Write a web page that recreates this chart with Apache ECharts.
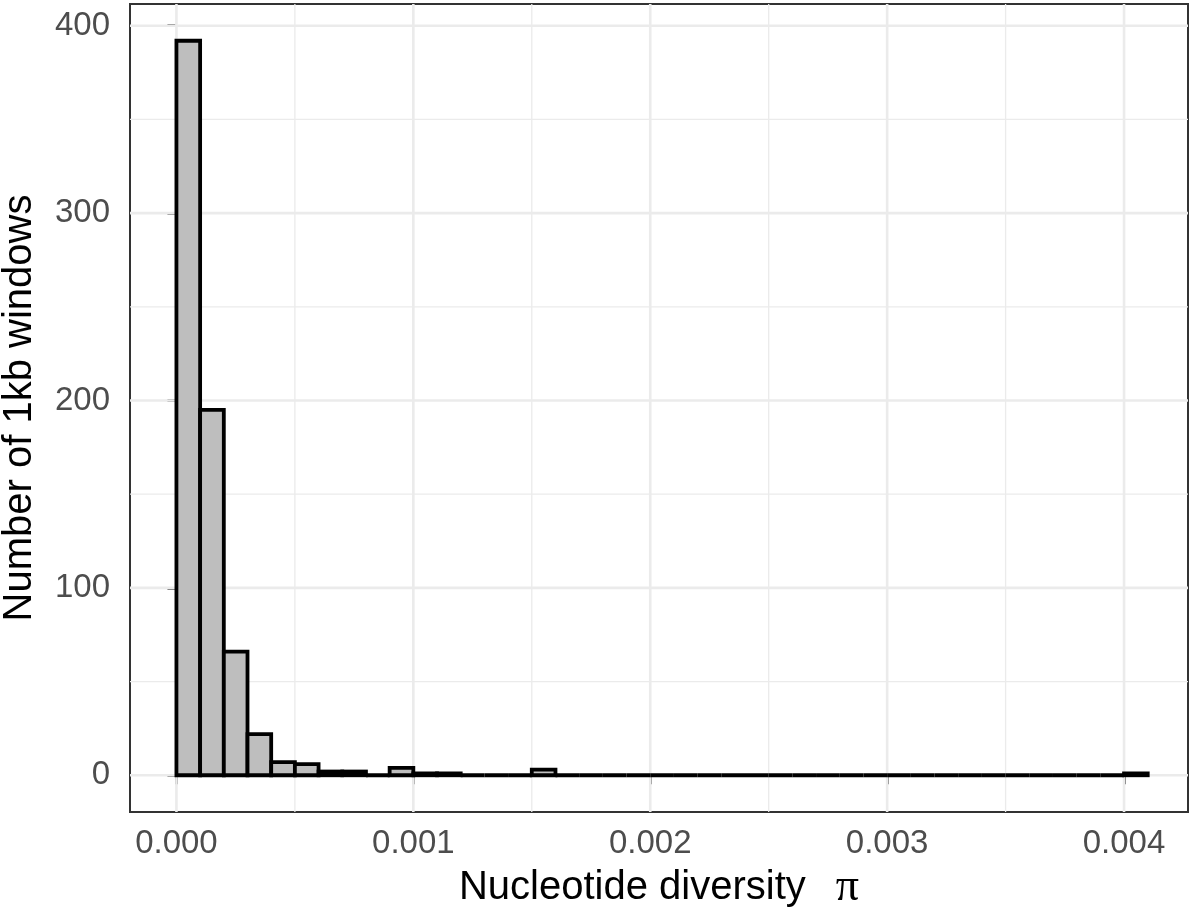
<!DOCTYPE html>
<html>
<head>
<meta charset="utf-8">
<script src="https://cdn.jsdelivr.net/npm/echarts@6/dist/echarts.min.js"></script>
<style>
  html, body { margin: 0; padding: 0; background: #fff; }
  #chart { width: 1200px; height: 916px; }
</style>
</head>
<body>
<div id="chart"></div>
<script>
// histogram of nucleotide diversity, bin width 0.0001 starting at 0
const binWidth = 0.0001
const counts = [
  392, 195, 66, 22, 7, 6, 2, 2, 0, 4, 1, 1, 0, 0, 0, 3,
  0, 0, 0, 0, 0, 0, 0, 0, 0, 0, 0, 0, 0, 0, 0, 0, 0, 0, 0, 0, 0, 0, 0, 0,
  1
]
const xTicks = [0, 0.001, 0.002, 0.003, 0.004]
const xMinor = [0.0005, 0.0015, 0.0025, 0.0035]
const yTicks = [0, 100, 200, 300, 400]
const yMinor = [50, 150, 250, 350]

const FONT = '"Liberation Sans", Arial, Helvetica, sans-serif'

const bins = counts.map((c, i) => [i * binWidth, (i + 1) * binWidth, c])

const chart = echarts.init(document.getElementById('chart'), null, { renderer: 'canvas' })

// grid lines drawn through the axes' scales
function vLines(vals, width) {
  return {
    type: 'custom',
    z: 1,
    silent: true,
    data: vals.map(v => [v, 0]),
    encode: { x: 0, y: 1 },
    renderItem: (params, api) => {
      const p = api.coord([api.value(0), 0])
      const cs = params.coordSys
      return {
        type: 'line',
        shape: { x1: p[0], y1: cs.y, x2: p[0], y2: cs.y + cs.height },
        style: { stroke: '#ebebeb', lineWidth: width },
      }
    },
  }
}
function hLines(vals, width) {
  return {
    type: 'custom',
    z: 1,
    silent: true,
    data: vals.map(v => [0, v]),
    encode: { x: 0, y: 1 },
    renderItem: (params, api) => {
      const p = api.coord([0, api.value(1)])
      const cs = params.coordSys
      return {
        type: 'line',
        shape: { x1: cs.x, y1: p[1], x2: cs.x + cs.width, y2: p[1] },
        style: { stroke: '#ebebeb', lineWidth: width },
      }
    },
  }
}

const option = {
  backgroundColor: '#ffffff',
  animation: false,
  grid: {
    left: 130, right: 12, top: 4, bottom: 104,
    show: true,
    backgroundColor: '#ffffff',
    borderColor: '#333333',
    borderWidth: 2,
    containLabel: false,
    outerBoundsMode: 'none',
  },
  xAxis: {
    type: 'value',
    min: -0.000196,
    max: 0.00427,
    name: '{a|Nucleotide diversity}{b|π}',
    nameLocation: 'middle',
    nameGap: 52,
    nameTextStyle: {
      rich: {
        a: { fontFamily: FONT, fontSize: 40, color: '#000' },
        b: { fontFamily: '"Liberation Serif", "DejaVu Serif", serif', fontSize: 46, color: '#000', padding: [0, 0, 0, 30] },
      },
    },
    axisLine: { show: false },
    splitLine: { show: false },
    axisTick: {
      show: true, inside: false, length: 9, customValues: xTicks,
      lineStyle: { color: '#333333', width: 2.5 },
    },
    axisLabel: {
      customValues: xTicks,
      margin: 15,
      color: '#4d4d4d',
      fontFamily: FONT,
      fontSize: 33,
      formatter: v => v.toFixed(3),
    },
  },
  yAxis: {
    type: 'value',
    min: -19.6,
    max: 411.6,
    name: 'Number of 1kb windows',
    nameLocation: 'middle',
    nameRotate: 90,
    nameGap: 90,
    nameTextStyle: { fontFamily: FONT, fontSize: 40, color: '#000' },
    axisLine: { show: false },
    splitLine: { show: false },
    axisTick: {
      show: true, inside: false, length: 9, customValues: yTicks,
      lineStyle: { color: '#333333', width: 2.5 },
    },
    axisLabel: {
      customValues: yTicks,
      margin: 20,
      color: '#4d4d4d',
      fontFamily: FONT,
      fontSize: 33,
    },
  },
  series: [
    vLines(xMinor, 1.3),
    hLines(yMinor, 1.3),
    vLines(xTicks, 2.6),
    hLines(yTicks, 2.6),
    {
      type: 'custom',
      z: 5,
      data: bins,
      encode: { x: [0, 1], y: 2 },
      renderItem: (params, api) => {
        const p0 = api.coord([api.value(0), api.value(2)])
        const p1 = api.coord([api.value(1), 0])
        return {
          type: 'rect',
          shape: { x: p0[0], y: p0[1], width: p1[0] - p0[0], height: p1[1] - p0[1] },
          style: { fill: '#bebebe', stroke: '#000000', lineWidth: 3.8 },
        }
      },
    },
  ],
}

chart.setOption(option)
</script>
</body>
</html>
